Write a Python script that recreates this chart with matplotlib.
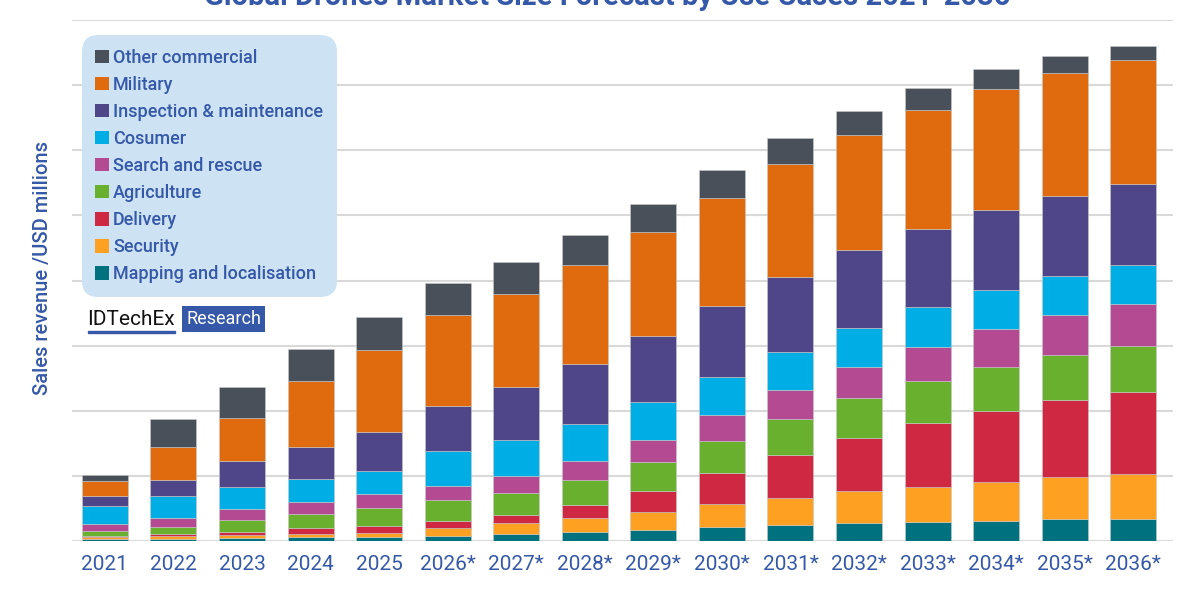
import numpy as np
import matplotlib
matplotlib.use('Agg')
import matplotlib.pyplot as plt
from matplotlib.patches import Rectangle

plt.rcParams['font.family'] = ['Roboto', 'DejaVu Sans']

# years (forecast years marked with *)
years = ['2021', '2022', '2023', '2024', '2025', '2026*', '2027*', '2028*',
         '2029*', '2030*', '2031*', '2032*', '2033*', '2034*', '2035*', '2036*']

# sales revenue per use case, bottom to top of stack
mapping = [17, 24, 33, 37, 43, 50, 70, 90, 113, 140, 157, 177, 193, 203, 217, 217]
security = [20, 26, 30, 33, 43, 83, 107, 143, 183, 230, 277, 323, 353, 390, 420, 450]
delivery = [13, 20, 27, 57, 67, 73, 83, 127, 203, 307, 427, 530, 637, 710, 777, 823]
agriculture = [54, 67, 120, 140, 183, 203, 223, 253, 297, 320, 360, 397, 420, 433, 447, 463]
search_rescue = [70, 93, 110, 120, 140, 143, 167, 193, 213, 260, 290, 313, 340, 380, 397, 413]
consumer = [173, 217, 223, 230, 223, 353, 357, 360, 380, 383, 377, 387, 397, 390, 387, 390]
inspection = [100, 163, 257, 323, 393, 450, 530, 607, 663, 710, 753, 777, 783, 803, 800, 810]
military = [150, 327, 427, 660, 817, 900, 937, 983, 1033, 1080, 1123, 1153, 1187, 1203, 1230, 1240]
other = [60, 283, 310, 323, 330, 323, 310, 300, 287, 280, 260, 240, 220, 200, 170, 137]

series = [
    ('Mapping and localisation', mapping, '#00727f'),
    ('Security', security, '#fea123'),
    ('Delivery', delivery, '#cf2843'),
    ('Agriculture', agriculture, '#6ab02f'),
    ('Search and rescue', search_rescue, '#b34a92'),
    ('Cosumer', consumer, '#00aee6'),
    ('Inspection & maintenance', inspection, '#4e4689'),
    ('Military', military, '#e06a0e'),
    ('Other commercial', other, '#4a5059'),
]

blue = '#3558a8'

fig = plt.figure(figsize=(12, 6), dpi=100)
ax = fig.add_axes([0.06, 0.098, 0.9175, 0.869])

x = np.arange(len(years))
bottom = np.zeros(len(years))
handles = []
for name, vals, col in series:
    b = ax.bar(x, vals, 0.67, bottom=bottom, color=col, label=name,
               edgecolor='#c8c8c8', linewidth=0.4, zorder=3)
    handles.append(b)
    bottom += np.array(vals)

step = 651
ax.set_ylim(0, step * 8)
ax.set_yticks(np.arange(0, step * 9, step))
ax.set_yticklabels([])
ax.tick_params(axis='y', length=0)
ax.grid(axis='y', color='#d9d9d9', linewidth=1.5, zorder=0)
ax.set_axisbelow(True)
ax.set_xlim(-0.48, 15.58)
ax.set_xticks(x)
ax.set_xticklabels(years, fontsize=15, color=blue)
ax.tick_params(axis='x', length=0, pad=10)
for s in ax.spines.values():
    s.set_visible(False)

ax.set_ylabel('Sales revenue /USD millions', fontsize=14.5, color=blue,
              fontweight='medium')
ax.yaxis.set_label_coords(-0.018, 0.524)

leg = ax.legend(handles[::-1], [s[0] for s in series][::-1], loc='upper left',
                bbox_to_anchor=(0.012, 0.963), borderaxespad=0,
                prop=dict(size=13, weight='medium'),
                labelcolor=blue, facecolor='#cde3f4', edgecolor='none',
                framealpha=1, fancybox=True, handlelength=0.75, handleheight=0.75,
                handletextpad=0.25, labelspacing=0.5, borderpad=0.55)
leg.get_frame().set_boxstyle('round,pad=0.2,rounding_size=0.9')
for h in leg.legend_handles:
    h.set_edgecolor('none')

# IDTechEx logo
fig.text(0.073, 0.467, 'IDTechEx', fontsize=15, color='#111111', va='center')
fig.add_artist(Rectangle((0.073, 0.445), 0.073, 0.003, color=blue, transform=fig.transFigure))
fig.text(0.155, 0.468, 'Research', fontsize=13, color='white', va='center',
         bbox=dict(boxstyle='square,pad=0.22', facecolor=blue, edgecolor='none'))

# title, mostly cut off at the top edge as in the source image
fig.text(0.506, 0.992, 'Global Drones Market Size Forecast by Use Cases 2021-2036',
         ha='center', va='baseline', fontsize=21, fontweight='bold', color=blue)

fig.savefig('out.png', dpi=100)
